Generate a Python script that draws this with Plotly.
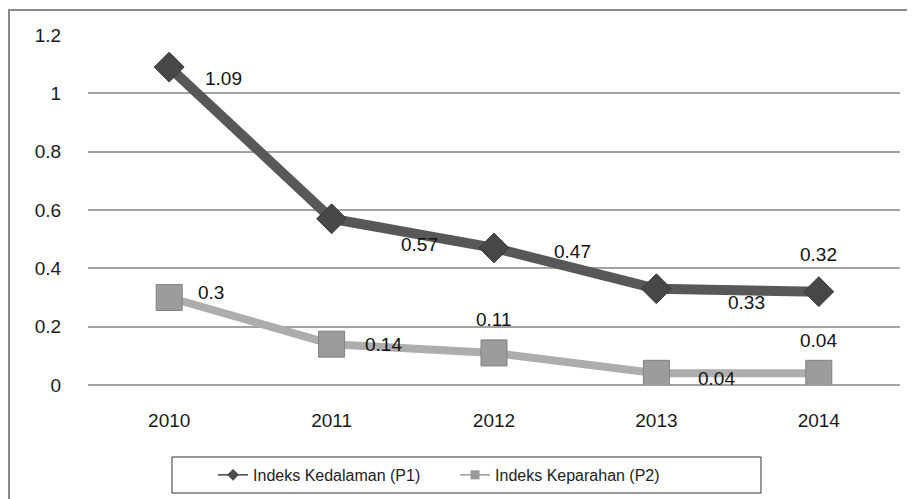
import plotly.graph_objects as go

years = ["2010", "2011", "2012", "2013", "2014"]
p1_values = [1.09, 0.57, 0.47, 0.33, 0.32]
p2_values = [0.3, 0.14, 0.11, 0.04, 0.04]
p1_name = "Indeks Kedalaman (P1)"
p2_name = "Indeks Keparahan (P2)"
y_ticks = [0, 0.2, 0.4, 0.6, 0.8, 1, 1.2]
y_tick_text = ["0", "0.2", "0.4", "0.6", "0.8", "1", "1.2"]

# label pixel offsets (xshift, yshift) per point, mimicking the original label placement
p1_label_shift = [(54, -11), (88, -26), (78, -4), (90, -14), (0, 37)]
p2_label_shift = [(42, 5), (52, 0), (0, 33), (60, -5), (0, 33)]

x_idx = list(range(len(years)))

fig = go.Figure()
fig.add_trace(go.Scatter(
    x=x_idx, y=p1_values, name=p1_name, mode="lines+markers", showlegend=False,
    line=dict(color="#585858", width=10),
    marker=dict(symbol="diamond", size=23, color="#474747",
                line=dict(color="#3a3a3a", width=1)),
))
fig.add_trace(go.Scatter(
    x=x_idx, y=p2_values, name=p2_name, mode="lines+markers", showlegend=False,
    line=dict(color="#adadad", width=8),
    marker=dict(symbol="square", size=26, color="#9c9c9c",
                line=dict(color="#808080", width=1)),
))
# legend-only entries with thin lines / small markers like the original legend
fig.add_trace(go.Scatter(
    x=[None], y=[None], name=p1_name, mode="lines+markers",
    line=dict(color="#444444", width=1.5),
    marker=dict(symbol="diamond", size=9, color="#4b4b4b"),
))
fig.add_trace(go.Scatter(
    x=[None], y=[None], name=p2_name, mode="lines+markers",
    line=dict(color="#999999", width=1.5),
    marker=dict(symbol="square", size=9, color="#999999"),
))

annotations = []
for vals, shifts in ((p1_values, p1_label_shift), (p2_values, p2_label_shift)):
    for x, v, (dx, dy) in zip(x_idx, vals, shifts):
        annotations.append(dict(
            x=x, y=v, xref="x", yref="y", text=str(v), showarrow=False,
            xshift=dx, yshift=dy,
            font=dict(family="Liberation Sans, Arial, sans-serif", size=19, color="#111111"),
        ))

fig.update_layout(
    width=907, height=491,
    margin=dict(l=80, r=15, t=27, b=114, autoexpand=False),
    paper_bgcolor="white", plot_bgcolor="white",
    font=dict(family="Liberation Sans, Arial, sans-serif", size=16, color="#1a1a1a"),
    annotations=annotations,
    showlegend=True,
    legend=dict(
        orientation="h", x=0.154, xanchor="left", y=-0.257, yanchor="middle",
        borderwidth=0, bgcolor="rgba(0,0,0,0)",
        font=dict(family="Liberation Sans, Arial", size=16, color="#222222"),
        entrywidth=197, entrywidthmode="pixels",
    ),
    shapes=[
        dict(type="rect", xref="paper", yref="paper",
             x0=-0.0973, x1=1.03, y0=-0.35, y1=1.0714,
             line=dict(color="#8a8a8a", width=2), layer="below"),
        dict(type="rect", xref="paper", yref="paper",
             x0=0.1034, x1=0.8288, y0=-0.3086, y1=-0.2057,
             line=dict(color="#333333", width=1), fillcolor="white", layer="below"),
    ],
)
fig.update_xaxes(
    range=[-0.5, len(years) - 0.5], tickvals=x_idx, ticktext=years,
    showgrid=False, showline=False, zeroline=False, automargin=False,
    ticks="outside", ticklen=18, tickcolor="rgba(0,0,0,0)",
    tickfont=dict(size=19),
)
fig.update_yaxes(
    range=[0, 1.2], tickvals=y_ticks, ticktext=y_tick_text,
    showgrid=True, gridcolor="#a3a3a3", gridwidth=1.5,
    zeroline=True, zerolinecolor="#a3a3a3", zerolinewidth=1.5, automargin=False,
    showline=False, ticks="outside", ticklen=22, tickcolor="rgba(0,0,0,0)",
    tickfont=dict(size=19),
)

fig.write_html("out.html")
